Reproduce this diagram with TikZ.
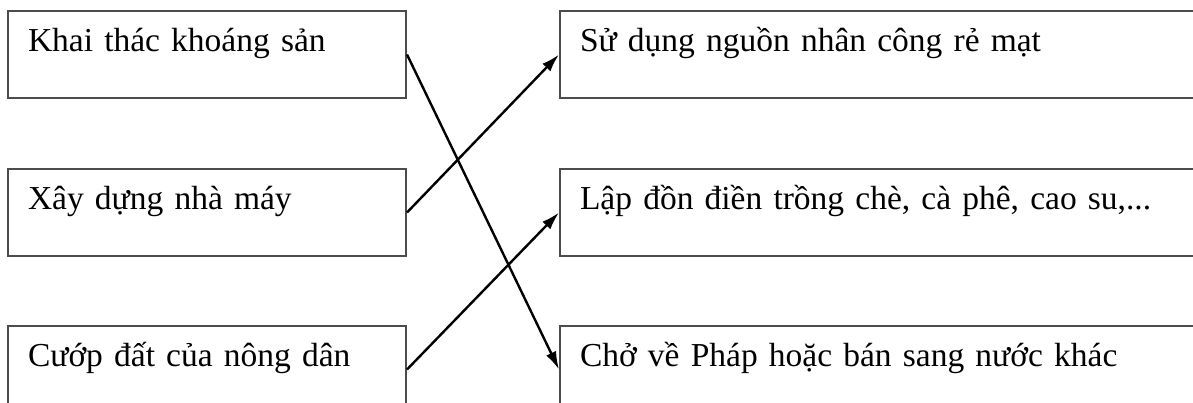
\documentclass[tikz,border=0pt]{standalone}
\usepackage{fontspec}
\setmainfont{Liberation Serif}
\usetikzlibrary{arrows.meta,positioning}
\tikzstyle{oto} = [draw=black!70, line width=2pt, rectangle, inner xsep=20pt, inner ysep=0pt, text height=40pt, text depth=47pt, align=left, font=\fontsize{33.5}{40}\selectfont]
\tikzstyle{trai} = [oto, text width=358pt]
\tikzstyle{phai} = [oto, text width=600pt]
\tikzstyle{muiten} = [-{Latex[length=18pt,width=11pt]}, line width=2.4pt]

\begin{document}
\begin{tikzpicture}[x=1pt, y=-1pt]
	\useasboundingbox (0,0) rectangle (1193,402);
	\clip (0,0) rectangle (1193,402);
	% cot trai
	\node[trai, anchor=north west] (kt) at (7,10) {Khai thác khoáng sản};
	\node[trai, below=69pt of kt] (xd) {Xây dựng nhà máy};
	\node[trai, below=68pt of xd] (cd) {Cướp đất của nông dân};
	% cot phai
	\node[phai, right=152pt of kt] (sd) {Sử dụng nguồn nhân công rẻ mạt};
	\node[phai, right=152pt of xd] (lap) {Lập đồn điền trồng chè, cà phê, cao su,...};
	\node[phai, right=152pt of cd] (cho) {Chở về Pháp hoặc bán sang nước khác};
	% noi
	\draw[muiten] (kt.east) -- (cho.west);
	\draw[muiten] (xd.east) -- (sd.west);
	\draw[muiten] (cd.east) -- (lap.west);
\end{tikzpicture}
\end{document}
